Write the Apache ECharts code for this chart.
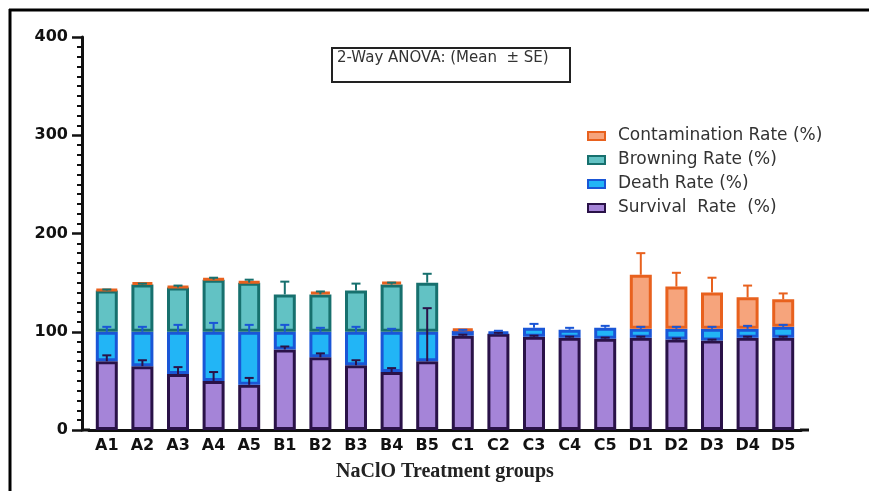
<!DOCTYPE html>
<html>
<head>
<meta charset="utf-8">
<script src="https://cdn.jsdelivr.net/npm/echarts@6/dist/echarts.min.js"></script>
<style>
  html, body { margin: 0; padding: 0; background: #fff; }
  #main { width: 869px; height: 491px; }
</style>
</head>
<body>
<div id="main"></div>
<script>
// treatment groups
var groups = ['A1', 'A2', 'A3', 'A4', 'A5', 'B1', 'B2', 'B3', 'B4', 'B5',
              'C1', 'C2', 'C3', 'C4', 'C5', 'D1', 'D2', 'D3', 'D4', 'D5'];

// stacked segment heights (%)
var survival      = [70, 65, 57, 50, 46, 82, 74, 66, 59, 70, 96, 98, 95, 94, 93, 94, 92, 91, 94, 94];
var death         = [30, 35, 43, 50, 54, 18, 26, 34, 41, 30,  5,  2,  9,  8, 11,  9, 11, 12,  9, 11];
var browning      = [42, 48, 45, 53, 50, 38, 38, 42, 48, 50,  0,  0,  0,  0,  0,  0,  0,  0,  0,  0];
var contamination = [ 1,  2,  1,  1,  1,  0,  3,  0,  3,  0,  2,  0,  0,  0,  0, 55, 43, 37, 32, 28];

// standard errors (drawn upward from each segment top)
var survivalSE      = [6, 6, 7, 9, 7, 3, 4, 5, 4, 54, 1, 1, 1, 1, 1, 1, 1, 1, 1, 1];
var deathSE         = [5, 5, 7, 9, 7, 7, 4, 5, 3, 0, 1, 1, 4, 2, 2, 2, 2, 2, 3, 2];
var browningSE      = [1, 1, 2, 2, 3, 13, 3, 7, 2, 9, 0, 0, 0, 0, 0, 0, 0, 0, 0, 0];
var contaminationSE = [0, 0, 0, 0, 0, 0, 0, 0, 0, 0, 0, 0, 0, 0, 0, 22, 14, 15, 12, 6];

var names = ['Survival  Rate  (%)', 'Death Rate (%)', 'Browning Rate (%)', 'Contamination Rate (%)'];
var fills   = ['#a584d8', '#22b5f6', '#62c2c4', '#f6a47c'];
var borders = ['#2a1248', '#1a56d6', '#17706e', '#e8611e'];
var segs = [survival, death, browning, contamination];
var ses  = [survivalSE, deathSE, browningSE, contaminationSE];

var chart = echarts.init(document.getElementById('main'));

var series = [];
var cum = groups.map(function () { return 0; });

segs.forEach(function (seg, k) {
    series.push({
        name: names[k],
        type: 'bar',
        stack: 'total',
        barWidth: 22,
        data: seg.map(function (v) { return v === 0 ? '-' : v; }),
        itemStyle: { color: fills[k], borderColor: borders[k], borderWidth: 3 },
        z: 2
    });
    // error bars for this segment
    var errs = [];
    seg.forEach(function (v, i) {
        var top = cum[i] + v;
        if (v > 0 && ses[k][i] > 0) errs.push([i, top, top + ses[k][i]]);
        cum[i] = top;
    });
    var col = borders[k];
    series.push({
        type: 'custom',
        z: 5,
        silent: true,
        data: errs,
        renderItem: function (params, api) {
            var lo = api.coord([api.value(0), api.value(1)]);
            var hi = api.coord([api.value(0), api.value(2)]);
            var hw = 4.5;
            return {
                type: 'group',
                children: [
                    { type: 'line', shape: { x1: lo[0], y1: lo[1], x2: hi[0], y2: hi[1] },
                      style: { stroke: col, lineWidth: 2 } },
                    { type: 'line', shape: { x1: hi[0] - hw, y1: hi[1], x2: hi[0] + hw, y2: hi[1] },
                      style: { stroke: col, lineWidth: 2 } }
                ]
            };
        }
    });
});

var option = {
    animation: false,
    backgroundColor: '#fff',
    grid: { left: 89, right: 68, top: 37, bottom: 61 },
    legend: {
        data: [names[3], names[2], names[1], names[0]],
        orient: 'vertical',
        left: 582,
        top: 122,
        icon: 'rect',
        itemWidth: 17,
        itemHeight: 8,
        itemGap: 6,
        textStyle: { color: '#333', fontFamily: 'DejaVu Sans', fontSize: 17, lineHeight: 18, padding: [0, 0, 0, 8] }
    },
    xAxis: {
        type: 'category',
        data: groups,
        axisLine: { lineStyle: { color: '#111', width: 3 } },
        axisTick: { alignWithLabel: true, length: 7, lineStyle: { color: '#111', width: 2.5 } },
        axisLabel: { interval: 0, color: '#111', fontFamily: 'DejaVu Sans', fontWeight: 'bold', fontSize: 16, margin: 8 },
        name: 'NaClO Treatment groups',
        nameLocation: 'middle',
        nameGap: 32,
        nameTextStyle: { color: '#222', fontFamily: 'Liberation Serif', fontWeight: 'bold', fontSize: 20 }
    },
    yAxis: {
        type: 'value',
        min: 0,
        max: 400,
        interval: 100,
        offset: 7,
        axisLine: { show: true, lineStyle: { color: '#111', width: 3 } },
        axisTick: { show: true, length: 10, lineStyle: { color: '#111', width: 2.5 } },
        minorTick: { show: true, splitNumber: 10, length: 5, lineStyle: { color: '#111', width: 2 } },
        splitLine: { show: false },
        axisLabel: { color: '#111', fontFamily: 'DejaVu Sans', fontWeight: 'bold', fontSize: 16, margin: 14 }
    },
    graphic: [
        // frame (top and left edges)
        { type: 'line', shape: { x1: 9, y1: 10, x2: 869, y2: 10 }, style: { stroke: '#000', lineWidth: 3 } },
        { type: 'line', shape: { x1: 10, y1: 9, x2: 10, y2: 491 }, style: { stroke: '#000', lineWidth: 3 } },
        // x axis line runs a bit past the category band
        { type: 'line', shape: { x1: 81, y1: 430, x2: 90, y2: 430 }, style: { stroke: '#111', lineWidth: 3 } },
        { type: 'line', shape: { x1: 800, y1: 430, x2: 809, y2: 430 }, style: { stroke: '#111', lineWidth: 3 } },
        // annotation box
        { type: 'rect', shape: { x: 332, y: 48, width: 238, height: 34 },
          style: { fill: '#fff', stroke: '#222', lineWidth: 2 } },
        { type: 'text', left: 337, top: 51,
          style: { text: '2-Way ANOVA: (Mean  \u00b1 SE)', fill: '#333', font: '15px "DejaVu Sans"' } }
    ],
    series: series
};

chart.setOption(option);
</script>
</body>
</html>
